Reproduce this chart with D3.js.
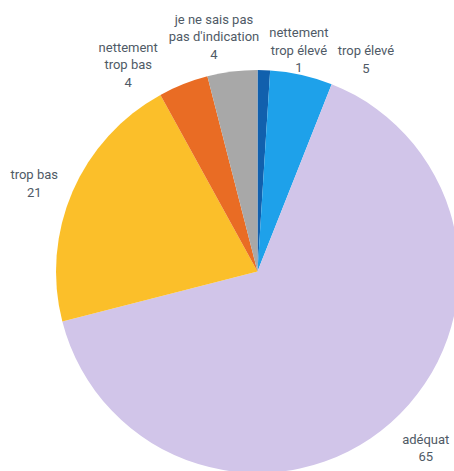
<!DOCTYPE html>
<html>
<head>
<meta charset="utf-8">
<script src="https://cdn.jsdelivr.net/npm/d3@7"></script>
<style>
  html, body { margin: 0; padding: 0; background: #fff; }
  svg { display: block; }
</style>
</head>
<body>
<svg id="chart" width="454" height="471"></svg>
<script>
// Answers, in drawing order (clockwise from 12 o'clock)
const categories = [
  "nettement trop élevé",
  "trop élevé",
  "adéquat",
  "trop bas",
  "nettement trop bas",
  "je ne sais pas pas d'indication"
];
const labelLines = [
  ["nettement", "trop élevé"],
  ["trop élevé"],
  ["adéquat"],
  ["trop bas"],
  ["nettement", "trop bas"],
  ["je ne sais pas", "pas d'indication"]
];
const values = [1, 5, 65, 21, 4, 4];
const colors = ["#1160ad", "#1ea1ea", "#d1c5e9", "#fbbf2a", "#e96c24", "#a8a8a8"];

// Label placement: angle nudge (degrees) from the slice's middle, and distance from centre
const labelLayout = [
  { da: 8.8, r: 225 },
  { da: 14.5, r: 238 },
  { da: -2.2, r: 244 },
  { da: -1.9, r: 240 },
  { da: -10.4, r: 244 },
  { da: -3.3, r: 239 }
];

const cx = 257.5, cy = 271.5, radius = 201.5;
const lineHeight = 17.5;

const svg = d3.select("#chart");
const g = svg.append("g").attr("transform", `translate(${cx},${cy})`);

const data = categories.map((c, i) => ({ name: c, value: values[i], color: colors[i], lines: labelLines[i], layout: labelLayout[i] }));

const pie = d3.pie().sort(null).value(d => d.value).startAngle(0).endAngle(2 * Math.PI);
const arc = d3.arc().innerRadius(0).outerRadius(radius);
const arcs = pie(data);

g.selectAll("path.slice")
  .data(arcs)
  .join("path")
  .attr("class", "slice")
  .attr("d", arc)
  .attr("fill", d => d.data.color);

const labels = g.selectAll("text.lbl")
  .data(arcs)
  .join("text")
  .attr("class", "lbl")
  .attr("text-anchor", "middle")
  .attr("font-family", "Roboto, 'Noto Sans', sans-serif")
  .attr("font-size", 13)
  .attr("fill", "#4f5a66")
  .attr("transform", d => {
    const a = (d.startAngle + d.endAngle) / 2 + d.data.layout.da * Math.PI / 180;
    const r = d.data.layout.r;
    return `translate(${r * Math.sin(a)},${-r * Math.cos(a)})`;
  });

labels.each(function(d) {
  const lines = d.data.lines.concat([String(d.data.value)]);
  const t = d3.select(this);
  const y0 = -(lines.length - 1) / 2 * lineHeight;
  lines.forEach((ln, i) => {
    t.append("tspan")
      .attr("x", 0)
      .attr("y", y0 + i * lineHeight)
      .attr("dy", "0.35em")
      .text(ln);
  });
});
</script>
</body>
</html>
